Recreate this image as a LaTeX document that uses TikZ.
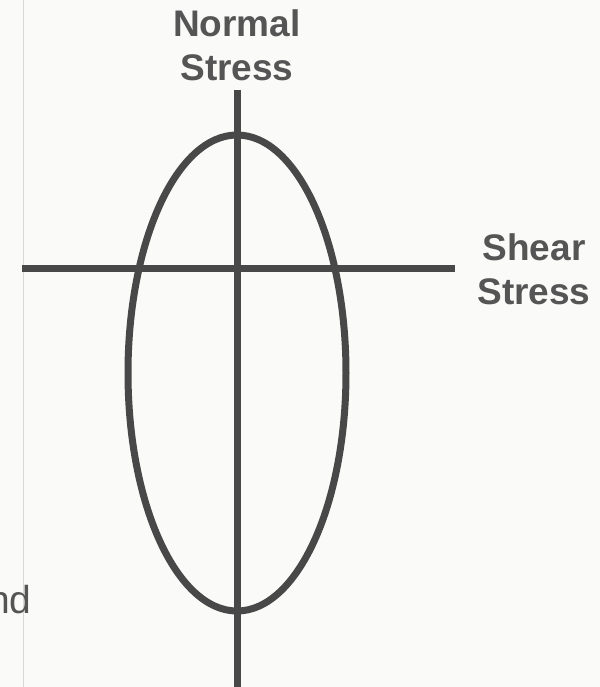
\documentclass[tikz,border=0pt]{standalone}
\usepackage{fontspec}
\setmainfont{Liberation Sans}
\definecolor{inkgray}{RGB}{72,72,72}
\definecolor{textgray}{RGB}{85,85,85}
\definecolor{edgegray}{RGB}{215,215,215}
\definecolor{paper}{RGB}{250,250,249}
\begin{document}
\begin{tikzpicture}[x=0.5pt,y=-0.5pt,
  axis/.style={draw=inkgray,line width=3.5pt},
  curve/.style={draw=inkgray,line width=3.5pt},
  lbl/.style={text=textgray,font=\fontsize{18.5}{22}\selectfont\bfseries,align=center,inner sep=0pt},
  cut/.style={text=textgray,font=\fontsize{19.5}{22}\selectfont,inner sep=0pt}]
\fill[paper] (0,0) rectangle (600,687);
\useasboundingbox (0,0) rectangle (600,687);
\draw[edgegray,line width=0.5pt] (23.5,0) -- (23.5,687);
\coordinate (vt) at (237,90);
\coordinate (vb) at (237,687);
\coordinate (hl) at (22,268);
\coordinate (hr) at (455,268);
\draw[axis] (hl) -- (hr);
\draw[axis] (vt) -- (vb);
\draw[curve] (237,373) ellipse [x radius=109, y radius=238];
\node[lbl,anchor=base] (ns) at (237,80) {Normal\\Stress};
\node[lbl,anchor=base] (ss) at (534,304) {Shear\\Stress};
\node[cut,anchor=base east] (nd) at (32,613) {nd};
\end{tikzpicture}
\end{document}
